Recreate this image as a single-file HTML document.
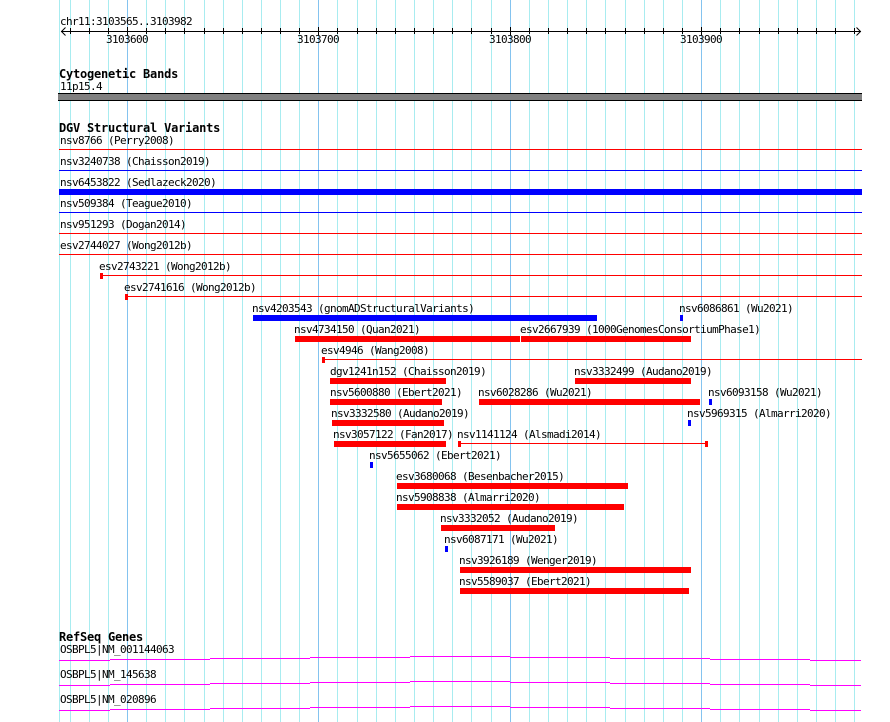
<!DOCTYPE html>
<html>
<head>
<meta charset="utf-8">
<style>
  html,body{margin:0;padding:0;background:#ffffff;}
  svg{display:block;}
  text{font-family:"DejaVu Sans Mono","Liberation Mono",monospace;font-size:11px;letter-spacing:-0.62px;fill:#000;}
  text.b{font-weight:bold;font-size:12px;letter-spacing:-0.22px;}
</style>
</head>
<body>
<svg width="890" height="722" viewBox="0 0 890 722" xmlns="http://www.w3.org/2000/svg" shape-rendering="crispEdges">
  <rect x="0" y="0" width="890" height="722" fill="#ffffff"/>
  <!-- grid -->
  <g fill="#a8ecf0">
    <rect x="59" y="0" width="1" height="722"/>
    <rect x="70" y="0" width="1" height="722"/>
    <rect x="89" y="0" width="1" height="722"/>
    <rect x="108" y="0" width="1" height="722"/>
    <rect x="146" y="0" width="1" height="722"/>
    <rect x="165" y="0" width="1" height="722"/>
    <rect x="184" y="0" width="1" height="722"/>
    <rect x="204" y="0" width="1" height="722"/>
    <rect x="223" y="0" width="1" height="722"/>
    <rect x="242" y="0" width="1" height="722"/>
    <rect x="261" y="0" width="1" height="722"/>
    <rect x="280" y="0" width="1" height="722"/>
    <rect x="299" y="0" width="1" height="722"/>
    <rect x="337" y="0" width="1" height="722"/>
    <rect x="357" y="0" width="1" height="722"/>
    <rect x="376" y="0" width="1" height="722"/>
    <rect x="395" y="0" width="1" height="722"/>
    <rect x="414" y="0" width="1" height="722"/>
    <rect x="433" y="0" width="1" height="722"/>
    <rect x="452" y="0" width="1" height="722"/>
    <rect x="471" y="0" width="1" height="722"/>
    <rect x="491" y="0" width="1" height="722"/>
    <rect x="529" y="0" width="1" height="722"/>
    <rect x="548" y="0" width="1" height="722"/>
    <rect x="567" y="0" width="1" height="722"/>
    <rect x="586" y="0" width="1" height="722"/>
    <rect x="605" y="0" width="1" height="722"/>
    <rect x="625" y="0" width="1" height="722"/>
    <rect x="644" y="0" width="1" height="722"/>
    <rect x="663" y="0" width="1" height="722"/>
    <rect x="682" y="0" width="1" height="722"/>
    <rect x="720" y="0" width="1" height="722"/>
    <rect x="739" y="0" width="1" height="722"/>
    <rect x="759" y="0" width="1" height="722"/>
    <rect x="778" y="0" width="1" height="722"/>
    <rect x="797" y="0" width="1" height="722"/>
    <rect x="816" y="0" width="1" height="722"/>
    <rect x="835" y="0" width="1" height="722"/>
    <rect x="854" y="0" width="1" height="722"/>
  </g>
  <g fill="#84c3ef">
    <rect x="127" y="0" width="1" height="722"/>
    <rect x="318" y="0" width="1" height="722"/>
    <rect x="510" y="0" width="1" height="722"/>
    <rect x="701" y="0" width="1" height="722"/>
  </g>

  <!-- ruler -->
  <text x="60" y="25">chr11:3103565..3103982</text>
  <g fill="#000">
    <rect x="61" y="31" width="800" height="1"/>
    <rect x="70" y="28" width="1" height="6"/>
    <rect x="89" y="28" width="1" height="6"/>
    <rect x="108" y="28" width="1" height="6"/>
    <rect x="127" y="27" width="1" height="8"/>
    <rect x="146" y="28" width="1" height="6"/>
    <rect x="165" y="28" width="1" height="6"/>
    <rect x="184" y="28" width="1" height="6"/>
    <rect x="204" y="28" width="1" height="6"/>
    <rect x="223" y="28" width="1" height="6"/>
    <rect x="242" y="28" width="1" height="6"/>
    <rect x="261" y="28" width="1" height="6"/>
    <rect x="280" y="28" width="1" height="6"/>
    <rect x="299" y="28" width="1" height="6"/>
    <rect x="318" y="27" width="1" height="8"/>
    <rect x="337" y="28" width="1" height="6"/>
    <rect x="357" y="28" width="1" height="6"/>
    <rect x="376" y="28" width="1" height="6"/>
    <rect x="395" y="28" width="1" height="6"/>
    <rect x="414" y="28" width="1" height="6"/>
    <rect x="433" y="28" width="1" height="6"/>
    <rect x="452" y="28" width="1" height="6"/>
    <rect x="471" y="28" width="1" height="6"/>
    <rect x="491" y="28" width="1" height="6"/>
    <rect x="510" y="27" width="1" height="8"/>
    <rect x="529" y="28" width="1" height="6"/>
    <rect x="548" y="28" width="1" height="6"/>
    <rect x="567" y="28" width="1" height="6"/>
    <rect x="586" y="28" width="1" height="6"/>
    <rect x="605" y="28" width="1" height="6"/>
    <rect x="625" y="28" width="1" height="6"/>
    <rect x="644" y="28" width="1" height="6"/>
    <rect x="663" y="28" width="1" height="6"/>
    <rect x="682" y="28" width="1" height="6"/>
    <rect x="701" y="27" width="1" height="8"/>
    <rect x="720" y="28" width="1" height="6"/>
    <rect x="739" y="28" width="1" height="6"/>
    <rect x="759" y="28" width="1" height="6"/>
    <rect x="778" y="28" width="1" height="6"/>
    <rect x="797" y="28" width="1" height="6"/>
    <rect x="816" y="28" width="1" height="6"/>
    <rect x="835" y="28" width="1" height="6"/>
    <rect x="854" y="28" width="1" height="6"/>
  </g>
  <g stroke="#000" stroke-width="1" fill="none" shape-rendering="auto">
    <polyline points="65.5,27.5 61.5,31.5 65.5,35.5"/>
    <polyline points="856.5,27.5 860.5,31.5 856.5,35.5"/>
  </g>
  <text x="106" y="43">3103600</text>
  <text x="297" y="43">3103700</text>
  <text x="489" y="43">3103800</text>
  <text x="680" y="43">3103900</text>

  <!-- Cytogenetic bands -->
  <text class="b" x="59" y="78">Cytogenetic Bands</text>
  <text x="60" y="90">11p15.4</text>
  <rect x="58" y="93" width="804" height="8" fill="#000"/>
  <rect x="58" y="94" width="804" height="6" fill="#808080"/>

  <!-- DGV Structural Variants -->
  <text class="b" x="59" y="132">DGV Structural Variants</text>

  <text x="60" y="144">nsv8766 (Perry2008)</text>
  <rect x="59" y="149" width="803" height="1" fill="#ff0000"/>

  <text x="60" y="165">nsv3240738 (Chaisson2019)</text>
  <rect x="59" y="170" width="803" height="1" fill="#0000ff"/>

  <text x="60" y="186">nsv6453822 (Sedlazeck2020)</text>
  <rect x="59" y="189" width="803" height="6" fill="#0000ff"/>

  <text x="60" y="207">nsv509384 (Teague2010)</text>
  <rect x="59" y="212" width="803" height="1" fill="#0000ff"/>

  <text x="60" y="228">nsv951293 (Dogan2014)</text>
  <rect x="59" y="233" width="803" height="1" fill="#ff0000"/>

  <text x="60" y="249">esv2744027 (Wong2012b)</text>
  <rect x="59" y="254" width="803" height="1" fill="#ff0000"/>

  <text x="99" y="270">esv2743221 (Wong2012b)</text>
  <rect x="100" y="275" width="762" height="1" fill="#ff0000"/>
  <rect x="100" y="273" width="3" height="6" fill="#ff0000"/>

  <text x="124" y="291">esv2741616 (Wong2012b)</text>
  <rect x="125" y="296" width="737" height="1" fill="#ff0000"/>
  <rect x="125" y="294" width="3" height="6" fill="#ff0000"/>

  <text x="252" y="312">nsv4203543 (gnomADStructuralVariants)</text>
  <rect x="253" y="315" width="344" height="6" fill="#0000ff"/>
  <text x="679" y="312">nsv6086861 (Wu2021)</text>
  <rect x="680" y="315" width="3" height="6" fill="#0000ff"/>

  <text x="294" y="333">nsv4734150 (Quan2021)</text>
  <rect x="295" y="336" width="225" height="6" fill="#ff0000"/>
  <text x="520" y="333">esv2667939 (1000GenomesConsortiumPhase1)</text>
  <rect x="521" y="336" width="170" height="6" fill="#ff0000"/>

  <text x="321" y="354">esv4946 (Wang2008)</text>
  <rect x="322" y="359" width="540" height="1" fill="#ff0000"/>
  <rect x="322" y="357" width="3" height="6" fill="#ff0000"/>

  <text x="330" y="375">dgv1241n152 (Chaisson2019)</text>
  <rect x="330" y="378" width="116" height="6" fill="#ff0000"/>
  <text x="574" y="375">nsv3332499 (Audano2019)</text>
  <rect x="575" y="378" width="116" height="6" fill="#ff0000"/>

  <text x="330" y="396">nsv5600880 (Ebert2021)</text>
  <rect x="330" y="399" width="112" height="6" fill="#ff0000"/>
  <text x="478" y="396">nsv6028286 (Wu2021)</text>
  <rect x="479" y="399" width="221" height="6" fill="#ff0000"/>
  <text x="708" y="396">nsv6093158 (Wu2021)</text>
  <rect x="709" y="399" width="3" height="6" fill="#0000ff"/>

  <text x="331" y="417">nsv3332580 (Audano2019)</text>
  <rect x="332" y="420" width="112" height="6" fill="#ff0000"/>
  <text x="687" y="417">nsv5969315 (Almarri2020)</text>
  <rect x="688" y="420" width="3" height="6" fill="#0000ff"/>

  <text x="333" y="438">nsv3057122 (Fan2017)</text>
  <rect x="334" y="441" width="112" height="6" fill="#ff0000"/>
  <text x="457" y="438">nsv1141124 (Alsmadi2014)</text>
  <rect x="458" y="443" width="250" height="1" fill="#ff0000"/>
  <rect x="458" y="441" width="3" height="6" fill="#ff0000"/>
  <rect x="705" y="441" width="3" height="6" fill="#ff0000"/>

  <text x="369" y="459">nsv5655062 (Ebert2021)</text>
  <rect x="370" y="462" width="3" height="6" fill="#0000ff"/>

  <text x="396" y="480">esv3680068 (Besenbacher2015)</text>
  <rect x="397" y="483" width="231" height="6" fill="#ff0000"/>

  <text x="396" y="501">nsv5908838 (Almarri2020)</text>
  <rect x="397" y="504" width="227" height="6" fill="#ff0000"/>

  <text x="440" y="522">nsv3332052 (Audano2019)</text>
  <rect x="441" y="525" width="114" height="6" fill="#ff0000"/>

  <text x="444" y="543">nsv6087171 (Wu2021)</text>
  <rect x="445" y="546" width="3" height="6" fill="#0000ff"/>

  <text x="459" y="564">nsv3926189 (Wenger2019)</text>
  <rect x="460" y="567" width="231" height="6" fill="#ff0000"/>

  <text x="459" y="585">nsv5589037 (Ebert2021)</text>
  <rect x="460" y="588" width="229" height="6" fill="#ff0000"/>

  <!-- RefSeq Genes -->
  <text class="b" x="59" y="641">RefSeq Genes</text>
  <text x="60" y="653">OSBPL5|NM_001144063</text>
  <g fill="#ff00ff">
    <rect x="59" y="660" width="51" height="1"/>
    <rect x="110" y="659" width="100" height="1"/>
    <rect x="210" y="658" width="100" height="1"/>
    <rect x="310" y="657" width="100" height="1"/>
    <rect x="410" y="656" width="100" height="1"/>
    <rect x="510" y="657" width="100" height="1"/>
    <rect x="610" y="658" width="100" height="1"/>
    <rect x="710" y="659" width="100" height="1"/>
    <rect x="810" y="660" width="51" height="1"/>
  </g>
  <text x="60" y="678">OSBPL5|NM_145638</text>
  <g fill="#ff00ff">
    <rect x="59" y="685" width="51" height="1"/>
    <rect x="110" y="684" width="100" height="1"/>
    <rect x="210" y="683" width="100" height="1"/>
    <rect x="310" y="682" width="100" height="1"/>
    <rect x="410" y="681" width="100" height="1"/>
    <rect x="510" y="682" width="100" height="1"/>
    <rect x="610" y="683" width="100" height="1"/>
    <rect x="710" y="684" width="100" height="1"/>
    <rect x="810" y="685" width="51" height="1"/>
  </g>
  <text x="60" y="703">OSBPL5|NM_020896</text>
  <g fill="#ff00ff">
    <rect x="59" y="710" width="51" height="1"/>
    <rect x="110" y="709" width="100" height="1"/>
    <rect x="210" y="708" width="100" height="1"/>
    <rect x="310" y="707" width="100" height="1"/>
    <rect x="410" y="706" width="100" height="1"/>
    <rect x="510" y="707" width="100" height="1"/>
    <rect x="610" y="708" width="100" height="1"/>
    <rect x="710" y="709" width="100" height="1"/>
    <rect x="810" y="710" width="51" height="1"/>
  </g>
</svg>
</body>
</html>
